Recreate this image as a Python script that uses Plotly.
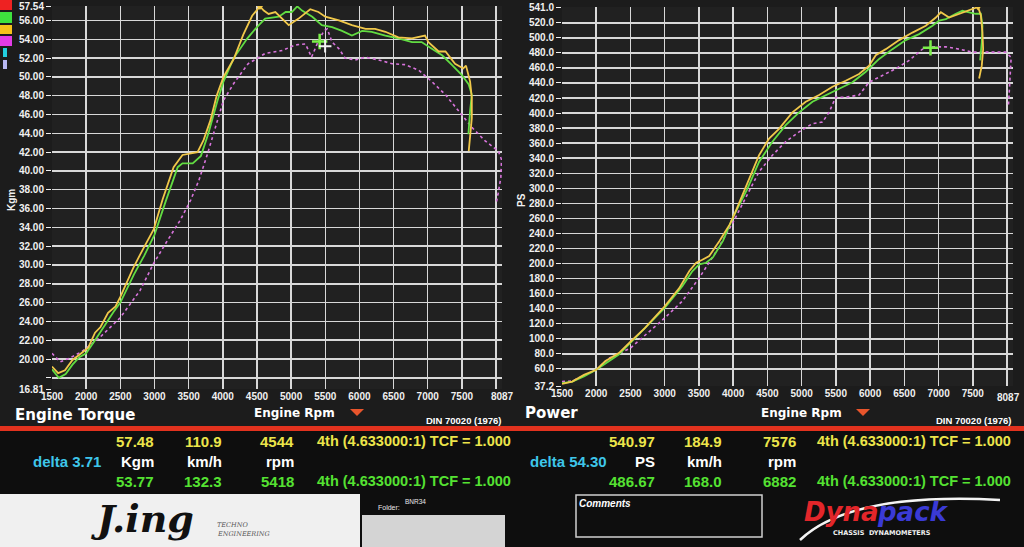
import plotly.graph_objects as go

# ---- torque runs (Engine Rpm, Kgm) ----
tq_yellow_rpm = [1500, 1590, 1690, 1800, 1910, 2030, 2130, 2210, 2320, 2430, 2500, 2690, 2840, 2990, 3120,
                 3280, 3410, 3530, 3630, 3720, 3820, 3910, 4010, 4160, 4300, 4430, 4544, 4600, 4670, 4770,
                 4870, 4965, 5110, 5280, 5400, 5500, 5700, 5890, 6090, 6230, 6380, 6570, 6770, 6960, 7010,
                 7160, 7260, 7400, 7520, 7560, 7620, 7645, 7645, 7620, 7600]
tq_yellow_kgm = [19.2, 18.5, 18.8, 19.9, 20.5, 21.2, 22.8, 23.4, 24.9, 25.6, 26.6, 29.7, 31.8, 33.8, 37.0,
                 40.4, 41.7, 41.9, 42.0, 43.3, 45.4, 48.0, 50.0, 51.9, 54.5, 56.5, 57.5, 57.05, 56.7, 56.9,
                 56.2, 55.5, 56.2, 57.2, 56.9, 56.4, 56.0, 55.5, 55.1, 55.1, 54.8, 54.2, 54.1, 54.4, 53.7,
                 52.7, 52.7, 51.4, 50.9, 51.2, 49.5, 47.8, 45.6, 43.5, 42.1]

tq_green_rpm = [1500, 1600, 1700, 1800, 1900, 2000, 2130, 2250, 2400, 2500, 2700, 2850, 3000, 3170, 3340,
                3410, 3480, 3560, 3680, 3790, 3920, 4010, 4160, 4360, 4500, 4620, 4820, 4920, 5010, 5090,
                5160, 5310, 5450, 5600, 5745, 5890, 6040, 6180, 6380, 6570, 6770, 6910, 7060, 7210, 7350,
                7500, 7600, 7645, 7620, 7595]
tq_green_kgm = [18.9, 18.0, 18.4, 19.4, 20.2, 20.6, 22.0, 23.4, 25.0, 26.0, 29.0, 31.0, 33.2, 36.9, 40.4,
                40.8, 40.8, 40.8, 41.6, 44.0, 47.4, 49.5, 52.0, 54.1, 55.3, 56.2, 56.4, 56.9, 56.9, 57.5,
                57.05, 56.4, 55.5, 55.3, 54.9, 54.4, 54.9, 54.8, 54.4, 54.1, 53.7, 53.7, 53.0, 52.3, 51.3,
                50.2, 49.2, 48.1, 46.4, 43.9]

tq_magenta_rpm = [1500, 1620, 1760, 1940, 2200, 2500, 2790, 2990, 3190, 3380, 3530, 3650, 3780, 3920, 4010,
                  4160, 4370, 4510, 4620, 4870, 5060, 5210, 5300, 5380, 5480, 5530, 5600, 5700, 5790, 5940,
                  6090, 6280, 6480, 6670, 6870, 7060, 7260, 7450, 7650, 7840, 8035, 8080, 8070, 8030, 8000]
tq_magenta_kgm = [20.6, 19.7, 20.1, 20.8, 22.3, 24.4, 27.3, 30.2, 32.6, 34.8, 36.9, 39.0, 41.9, 45.4, 47.5,
                  49.3, 51.4, 52.0, 52.5, 52.8, 53.4, 53.5, 52.1, 53.5, 54.9, 55.1, 53.7, 53.0, 52.0, 51.8,
                  52.1, 51.8, 51.4, 51.3, 50.7, 49.5, 48.1, 46.4, 44.6, 43.2, 42.1, 41.2, 39.3, 37.6, 36.5]

# ---- power runs (Engine Rpm, PS) ----
pw_yellow_rpm = [1500, 1650, 1820, 2000, 2130, 2330, 2500, 2710, 3000, 3210, 3360, 3460, 3550, 3650, 3800,
                 3950, 4030, 4200, 4378, 4524, 4670, 4865, 5060, 5255, 5450, 5644, 5839, 5985, 6083, 6229,
                 6424, 6618, 6813, 6960, 7033, 7154, 7300, 7446, 7576, 7617, 7641, 7651, 7631, 7592]
pw_yellow_ps = [40, 43, 52, 58.7, 70, 81, 96, 114, 143, 167, 190, 201, 205, 210, 230,
                252, 268, 305, 344, 366, 379, 401, 415, 424, 435, 443, 452, 463, 477, 485,
                497, 507, 516, 527, 534, 527, 532, 536, 541, 530, 507, 485, 463, 446]

pw_green_rpm = [1500, 1650, 1820, 2000, 2330, 2515, 3000, 3257, 3406, 3505, 3604, 3703, 3851, 4000, 4200,
                4378, 4573, 4768, 4963, 5158, 5352, 5547, 5742, 5937, 6132, 6326, 6521, 6716, 6911, 7008,
                7106, 7252, 7349, 7446, 7543, 7617, 7641, 7631, 7607]
pw_green_ps = [41, 43, 50, 58.7, 79, 96, 141, 170, 190, 199, 201, 208, 230, 262, 298,
               335, 362, 384, 401, 415, 424, 432, 441, 455, 472, 485, 497, 505, 516, 523,
               525, 532, 536, 534, 532, 532, 516, 494, 470]

pw_magenta_rpm = [1500, 1650, 1800, 2000, 2183, 2500, 3000, 3257, 3505, 3752, 4000, 4200, 4378, 4573, 4768,
                  4963, 5158, 5304, 5401, 5498, 5644, 5839, 5985, 6180, 6375, 6570, 6764, 6911, 7106, 7300,
                  7495, 7787, 7982, 8060, 8041, 8021]
pw_magenta_ps = [43, 44, 50, 58.7, 74, 87.6, 127.6, 150, 181, 216, 255, 290, 322, 344, 362,
                 375, 386, 388, 401, 421, 421, 424, 441, 450, 459, 470, 485, 488, 488, 485,
                 481, 481, 481, 474, 441, 410]

# ---- cursor readouts ----
tq_cursor_a = ["57.48", "110.9", "4544"]
tq_cursor_b = ["53.77", "132.3", "5418"]
pw_cursor_a = ["540.97", "184.9", "7576"]
pw_cursor_b = ["486.67", "168.0", "6882"]
gear_text = "4th (4.633000:1) TCF = 1.000"
tq_delta = "delta 3.71"
pw_delta = "delta 54.30"
tq_units = ["Kgm", "km/h", "rpm"]
pw_units = ["PS", "km/h", "rpm"]

rpm_max = 8087
rpm_ticks = [1500, 2000, 2500, 3000, 3500, 4000, 4500, 5000, 5500, 6000, 6500, 7000, 7500, 8000, rpm_max]
rpm_text = ["1500", "2000", "2500", "3000", "3500", "4000", "4500", "5000", "5500", "6000", "6500",
            "7000", "7500", "", str(rpm_max)]
kgm_ticks = [16.81, 18] + list(range(20, 57, 2)) + [57.54]
kgm_text = ["16.81", ""] + ["%.2f" % v for v in range(20, 57, 2)] + ["57.54"]
ps_ticks = [37.2] + list(range(60, 521, 20)) + [541.0]
ps_text = ["37.2"] + ["%.1f" % v for v in range(60, 521, 20)] + ["541.0"]

W, H = 1024, 547


def px(x):
    return x / W


def py(y):
    return 1 - y / H


YEL = "#f1c84a"
GRN = "#62dc42"
MAG = "#d874dc"
GRID = "#d8d8d8"
FONT = "Liberation Sans"
WIDE = "DejaVu Sans"

fig = go.Figure()

for xa, ya, runs in [
    ("x", "y", [(tq_magenta_rpm, tq_magenta_kgm, MAG, "dot"), (tq_green_rpm, tq_green_kgm, GRN, "solid"),
                (tq_yellow_rpm, tq_yellow_kgm, YEL, "solid")]),
    ("x2", "y2", [(pw_magenta_rpm, pw_magenta_ps, MAG, "dot"), (pw_green_rpm, pw_green_ps, GRN, "solid"),
                  (pw_yellow_rpm, pw_yellow_ps, YEL, "solid")]),
]:
    for rx, ry, col, dash in runs:
        fig.add_trace(go.Scatter(x=rx, y=ry, xaxis=xa, yaxis=ya, mode="lines", showlegend=False,
                                 line=dict(color=col, width=1.6 if dash == "dot" else 1.8, dash=dash)))

# cursor crosses
fig.add_trace(go.Scatter(x=[float(tq_cursor_b[2])], y=[float(tq_cursor_b[0])], xaxis="x", yaxis="y",
                         mode="markers", showlegend=False,
                         marker=dict(symbol="cross-thin", size=11, line=dict(color="#7cf04a", width=2.5))))
fig.add_trace(go.Scatter(x=[float(tq_cursor_b[2]) + 80], y=[float(tq_cursor_b[0]) - 0.5], xaxis="x", yaxis="y",
                         mode="markers", showlegend=False,
                         marker=dict(symbol="cross-thin", size=9, line=dict(color="#f4f4f4", width=2))))
fig.add_trace(go.Scatter(x=[float(pw_cursor_b[2])], y=[float(pw_cursor_b[0])], xaxis="x2", yaxis="y2",
                         mode="markers", showlegend=False,
                         marker=dict(symbol="cross-thin", size=11, line=dict(color="#7cf04a", width=2.5))))
fig.add_trace(go.Scatter(x=[float(tq_cursor_a[2])], y=[float(tq_cursor_a[0])], xaxis="x", yaxis="y",
                         mode="markers", showlegend=False,
                         marker=dict(symbol="triangle-down", size=7, color=YEL)))
fig.add_trace(go.Scatter(x=[float(pw_cursor_a[2])], y=[float(pw_cursor_a[0])], xaxis="x2", yaxis="y2",
                         mode="markers", showlegend=False,
                         marker=dict(symbol="triangle-down", size=7, color=YEL)))

tickfont = dict(family=FONT, size=10, color="#f0f0f0", weight="bold")
xcommon = dict(range=[1500, rpm_max], tickvals=rpm_ticks, showgrid=True, gridcolor=GRID,
               gridwidth=1.5, zeroline=False, tickfont=tickfont, ticks="", showline=False,
               fixedrange=True, automargin=False)
ycommon = dict(showgrid=True, gridcolor=GRID, gridwidth=1.5, zeroline=False, tickfont=tickfont,
               ticks="outside", ticklen=5, tickcolor="#f0f0f0", showline=False, fixedrange=True,
               automargin=False)

fig.update_layout(
    width=W, height=H, margin=dict(l=0, r=0, t=0, b=0, pad=0, autoexpand=False),
    paper_bgcolor="#1c1c1c", plot_bgcolor="#212121",
    xaxis=dict(domain=[px(52), px(502)], anchor="y", ticktext=rpm_text, **xcommon),
    yaxis=dict(domain=[py(389), py(6)], anchor="x", range=[16.81, 57.54], tickvals=kgm_ticks,
               ticktext=kgm_text, **ycommon),
    # last label of the right chart sits at the page edge, so it is drawn as an annotation below
    xaxis2=dict(domain=[px(562), px(1013)], anchor="y2", ticktext=rpm_text[:-1] + [""], **xcommon),
    yaxis2=dict(domain=[py(386), py(7)], anchor="x2", range=[37.2, 541.0], tickvals=ps_ticks,
                ticktext=ps_text, **ycommon),
    hovermode=False,
)

shapes = []
annos = []


def rect(x0, y0, x1, y1, fill, line=None, lw=0):
    shapes.append(dict(type="rect", xref="paper", yref="paper", x0=px(x0), x1=px(x1), y0=py(y1), y1=py(y0),
                       fillcolor=fill, line=dict(color=line or fill, width=lw), layer="above"))


def text(x, y, s, size, color, anchor="left", weight="bold", family=FONT, style="normal", angle=0):
    annos.append(dict(xref="paper", yref="paper", x=px(x), y=py(y), text=s, showarrow=False,
                      xanchor=anchor, yanchor="middle", textangle=angle, borderpad=0,
                      font=dict(family=family, size=size, color=color, weight=weight, style=style)))


# info panel background and red divider
rect(0, 430, 1024, 547, "#0e0e0e")
rect(0, 426, 1024, 431, "#e2321e")

# run colour swatches
rect(0, 0, 12, 10, "#ee2222")
rect(0, 12, 12, 23, "#3ee23e")
rect(0, 25, 12, 34, "#f6c21a")
rect(0, 36, 12, 46, "#e23ce6")
rect(3, 48, 7, 57, "#22cfe0")
rect(3, 60, 7, 69, "#b8b8f2")

# axis titles
text(11, 200, "Kgm", 10, "#f0f0f0", anchor="center", angle=-90)
text(521, 200, "PS", 10, "#f0f0f0", anchor="center", angle=-90)
text(1021, 397, str(rpm_max), 10, "#f0f0f0", anchor="right")

# chart captions
text(14, 415, "Engine Torque", 15, "#ffffff", family=WIDE)
text(253, 413, "Engine Rpm", 12, "#ffffff", family=WIDE)
text(425, 420, "DIN 70020 (1976)", 9.5, "#ffffff")
text(524, 413, "Power", 15, "#ffffff", family=WIDE)
text(760, 413, "Engine Rpm", 12, "#ffffff", family=WIDE)
text(935, 420, "DIN 70020 (1976)", 9.5, "#ffffff")
for tx in (357, 863):
    shapes.append(dict(type="path", xref="paper", yref="paper", layer="above",
                       path="M %f %f L %f %f L %f %f Z" % (px(tx - 7), py(409), px(tx + 7), py(409), px(tx), py(416)),
                       fillcolor="#e8552c", line=dict(width=0)))

# cursor readouts
CY = "#ece54a"
CG = "#55e232"
CC = "#3ec6ea"
for xs, ga, vals_a, vals_b, units, delta, dx in [
    ([155, 223, 295], 316, tq_cursor_a, tq_cursor_b, tq_units, tq_delta, 102),
    ([656, 723, 797], 816, pw_cursor_a, pw_cursor_b, pw_units, pw_delta, 608),
]:
    for x, va, vb, u in zip(xs, vals_a, vals_b, units):
        text(x, 441, va, 15, CY, anchor="right")
        text(x, 461, u, 15, "#ffffff", anchor="right")
        text(x, 481, vb, 15, CG, anchor="right")
    text(ga, 441, gear_text, 14.5, CY)
    text(ga, 481, gear_text, 14.5, CG)
    text(dx, 461, delta, 15, CC, anchor="right")

# J.ing logo panel
rect(0, 494, 360, 547, "#f0f0f0")
text(142, 518, "J.ing", 38, "#111111", anchor="center", family="DejaVu Serif", style="italic")
text(216, 525, "TECHNO", 6.5, "#555555", family="DejaVu Serif", weight="normal", style="italic")
text(216, 534, "ENGINEERING", 6.5, "#555555", family="DejaVu Serif", weight="normal", style="italic")
text(377, 507, "Folder:", 7, "#e8e8e8", weight="normal")
text(404, 501, "BNR34", 6.5, "#e8e8e8", weight="normal")
rect(362, 515, 505, 547, "#d4d4d4")

# comments box
rect(576, 495, 762, 537, "rgba(0,0,0,0)", line="#cfcfcf", lw=1.5)
text(578, 503, "Comments", 10, "#ffffff", style="italic")

# Dynapack logo
shapes.append(dict(type="path", xref="paper", yref="paper", layer="above",
                   path="M %f %f Q %f %f %f %f" % (px(800), py(540), px(850), py(492), px(1000), py(500)),
                   line=dict(color="#f4f4f4", width=2.5)))
text(803, 512, "Dyna", 26, "#e3262a", style="italic", family=WIDE)
text(876, 512, "pack", 26, "#3a3ad6", style="italic", family=WIDE)
text(832, 533, "CHASSIS  DYNAMOMETERS", 6.5, "#f0f0f0", family=WIDE)

fig.update_layout(shapes=shapes, annotations=annos)

fig.write_html("out.html", config=dict(displayModeBar=False, staticPlot=True),
               post_script="document.body.style.margin='0';document.body.style.overflow='hidden';")
